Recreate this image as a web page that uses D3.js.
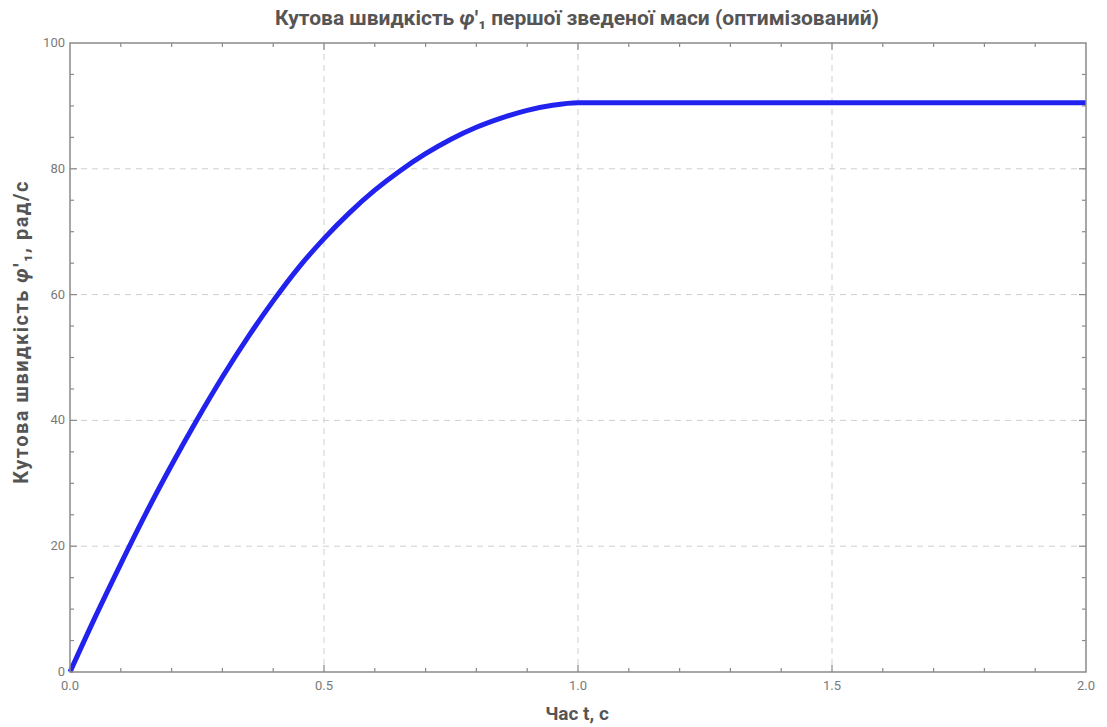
<!DOCTYPE html>
<html><head><meta charset="utf-8">
<script src="https://cdn.jsdelivr.net/npm/d3@7"></script>
<style>
body{margin:0;background:#fff;}
svg{display:block;font-family:Roboto,"Noto Sans",sans-serif;}
</style></head>
<body><svg id="chart" width="1107" height="727"></svg>
<script>
const timeValues = [0,0.05,0.10,0.15,0.20,0.25,0.30,0.35,0.40,0.45,0.50,0.55,0.60,0.65,0.70,0.75,0.80,0.85,0.90,0.95,1.00,1.50,2.00];
const speedValues = [0,8.8,17.2,25.3,32.9,40.1,46.9,53.2,59.0,64.3,68.9,73.0,76.6,79.7,82.4,84.7,86.6,88.1,89.3,90.1,90.5,90.5,90.5];
const xTickLabels = ["0.0","0.5","1.0","1.5","2.0"];
const yTickLabels = ["0","20","40","60","80","100"];
const titleText = "Кутова швидкість ";
const xLabel = "Час t, с";

const svg = d3.select("#chart");
const L=70,R=1086,T=43,B=672;
const x = d3.scaleLinear().domain([0,2]).range([L,R]);
const y = d3.scaleLinear().domain([0,100]).range([B,T]);

// grid
const g = svg.append("g");
[0.5,1.0,1.5].forEach(v=>g.append("line").attr("x1",x(v)).attr("x2",x(v)).attr("y1",T).attr("y2",B)
  .attr("stroke","#cfcfcf").attr("stroke-width",1).attr("stroke-dasharray","6,5"));
[20,40,60,80].forEach(v=>g.append("line").attr("x1",L).attr("x2",R).attr("y1",y(v)).attr("y2",y(v))
  .attr("stroke","#cfcfcf").attr("stroke-width",1).attr("stroke-dasharray","6,5"));

// line
const data = timeValues.map((t,i)=>[t,speedValues[i]]);
svg.append("path").datum(data)
  .attr("d", d3.line().x(d=>x(d[0])).y(d=>y(d[1])).curve(d3.curveMonotoneX))
  .attr("fill","none").attr("stroke","#2222ee").attr("stroke-width",5).attr("stroke-linecap","butt");

// frame
svg.append("rect").attr("x",L).attr("y",T).attr("width",R-L).attr("height",B-T)
  .attr("fill","none").attr("stroke","#8a8a8a").attr("stroke-width",1.5);

// ticks
const tk = svg.append("g").attr("stroke","#8a8a8a").attr("stroke-width",1.2);
d3.range(0,21).forEach(i=>{
  const v=i/10, major = i%5===0, len = major?7:4;
  if(i===0||i===20) return;
  tk.append("line").attr("x1",x(v)).attr("x2",x(v)).attr("y1",B).attr("y2",B-len);
  tk.append("line").attr("x1",x(v)).attr("x2",x(v)).attr("y1",T).attr("y2",T+len);
});
d3.range(0,21).forEach(i=>{
  const v=i*5, major = i%4===0, len = major?7:4;
  if(i===0||i===20) return;
  tk.append("line").attr("y1",y(v)).attr("y2",y(v)).attr("x1",L).attr("x2",L+len);
  tk.append("line").attr("y1",y(v)).attr("y2",y(v)).attr("x1",R).attr("x2",R-len);
});

// tick labels
xTickLabels.forEach(s=>svg.append("text").attr("x",x(+s)).attr("y",B+18).attr("text-anchor","middle")
  .attr("font-size",13).attr("fill","#7a7a7a").text(s));
yTickLabels.forEach(s=>svg.append("text").attr("x",L-5).attr("y",y(+s)+4).attr("text-anchor","end")
  .attr("font-size",13).attr("fill","#7a7a7a").text(s));

// title
const tt = svg.append("text").attr("x",577).attr("y",25).attr("text-anchor","middle")
  .attr("font-size",21).attr("font-weight","bold").attr("fill","#555");
tt.append("tspan").text(titleText);
tt.append("tspan").attr("font-style","italic").text("φ");
tt.append("tspan").text("'₁ першої зведеної маси (оптимізований)");

// x label
svg.append("text").attr("x",577).attr("y",720).attr("text-anchor","middle")
  .attr("font-size",19).attr("font-weight","bold").attr("fill","#555").text(xLabel);

// y label
const yl = svg.append("text").attr("transform",`translate(28,332) rotate(-90)`).attr("text-anchor","middle")
  .attr("font-size",20).attr("letter-spacing",1.5).attr("font-weight","bold").attr("fill","#555");
yl.append("tspan").text("Кутова швидкість ");
yl.append("tspan").attr("font-style","italic").text("φ");
yl.append("tspan").text("'₁, рад/с");
</script></body></html>
